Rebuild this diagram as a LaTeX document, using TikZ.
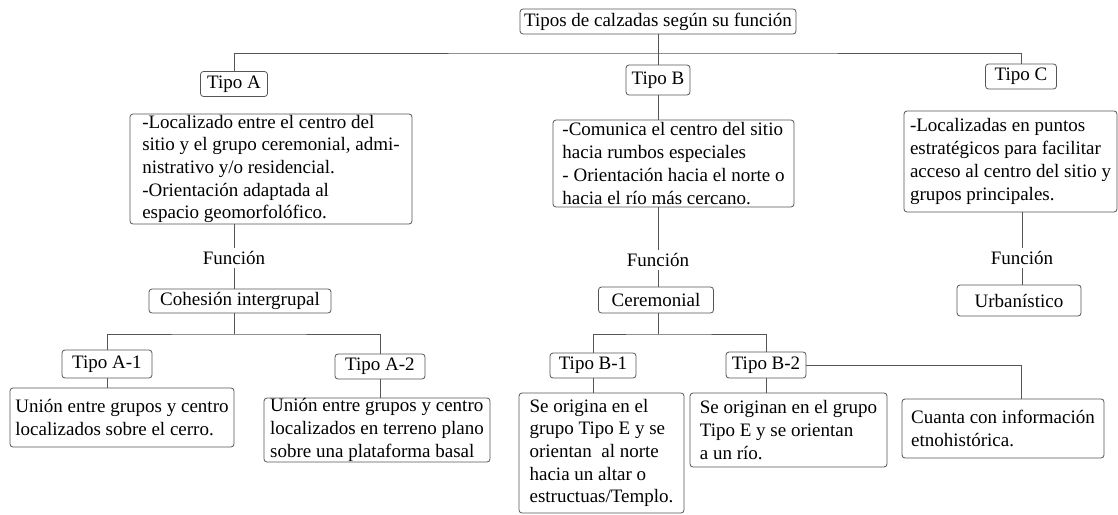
\documentclass[tikz,border=0pt]{standalone}
\usepackage{fontspec}
\setmainfont{Liberation Serif}
\usepackage{tikz}
\definecolor{linegray}{HTML}{555555}
\tikzstyle{every node}=[font=\fontsize{19}{22.7}\selectfont,text=black]
\tikzstyle{tag}=[draw=linegray,rounded corners=3pt,inner sep=0pt]
\tikzstyle{info}=[draw=linegray,rounded corners=3pt,inner xsep=2pt,inner ysep=0pt,align=left]
\tikzstyle{fn}=[inner sep=3pt]

\begin{document}
\begin{tikzpicture}[x=1pt,y=-1pt,line width=0.8pt,color=linegray]
\useasboundingbox (0,0) rectangle (1118,514);

% first level
\node[tag,minimum width=276pt,minimum height=25pt] (top) at (658,21.5) {Tipos de calzadas según su función};
\node[tag,minimum width=67pt,minimum height=25pt] (tipo_a) at (234,84) {Tipo A};
\node[tag,minimum width=64pt,minimum height=30pt] (tipo_b) at (658,80) {Tipo B};
\node[tag,minimum width=71pt,minimum height=25pt] (tipo_c) at (1021,76.5) {Tipo C};

\node[info,minimum width=282pt,minimum height=110pt] (desc_a) at (271,169)
  {-Localizado entre el centro del\\sitio y el grupo ceremonial, admi-\\nistrativo y/o residencial.\\-Orientación adaptada al\\espacio geomorfolófico.};
\node[info,minimum width=241pt,minimum height=87pt] (desc_b) at (673.5,163.5)
  {-Comunica el centro del sitio\\hacia rumbos especiales\\- Orientación hacia el norte o\\hacia el río más cercano.};
\node[info,minimum width=213pt,minimum height=101pt] (desc_c) at (1010.5,161.5)
  {-Localizadas en puntos\\estratégicos para facilitar\\acceso al centro del sitio y\\grupos principales.};

% function
\node[fn] (fun_a) at (234,258) {Función};
\node[fn] (fun_b) at (658,260) {Función};
\node[fn] (fun_c) at (1022,258) {Función};

\node[tag,minimum width=182pt,minimum height=24pt] (coh) at (240,301) {Cohesión intergrupal};
\node[tag,minimum width=115pt,minimum height=26pt] (cer) at (656,300) {Ceremonial};
\node[tag,minimum width=124pt,minimum height=31pt] (urb) at (1019,300.5) {Urbanístico};

% second level
\node[tag,minimum width=90pt,minimum height=28pt] (tipo_a1) at (107,364) {Tipo A-1};
\node[tag,minimum width=90pt,minimum height=25pt] (tipo_a2) at (380,366.5) {Tipo A-2};
\node[tag,minimum width=86pt,minimum height=25pt] (tipo_b1) at (593,365.5) {Tipo B-1};
\node[tag,minimum width=80pt,minimum height=26pt] (tipo_b2) at (766,365) {Tipo B-2};

\node[info,minimum width=224pt,minimum height=59pt] (desc_a1) at (122,417.5)
  {Unión entre grupos y centro\\localizados sobre el cerro.};
\node[info,minimum width=226pt,minimum height=64pt] (desc_a2) at (377,430)
  {Unión entre grupos y centro\\localizados en terreno plano\\sobre una plataforma basal};
\node[info,minimum width=165pt,minimum height=120pt] (desc_b1) at (601.5,453)
  {Se origina en el\\grupo Tipo E y se\\orientan\ \ al norte\\hacia un altar o\\estructuas/Templo.};
\node[info,minimum width=197pt,minimum height=74pt] (desc_b2) at (788.5,430)
  {Se originan en el grupo\\Tipo E y se orientan\\a un río.};
\node[info,minimum width=202pt,minimum height=59pt] (desc_b3) at (1003,428.5)
  {Cuanta con información\\etnohistórica.};

% connectors
\coordinate (bus) at (658,53);
\coordinate (bus_a) at (234,334);
\coordinate (bus_b) at (658,334);
\draw (top) -- (tipo_b);
\draw (tipo_a.north) |- (bus) -| (tipo_c.north);
\draw (tipo_b.south) -- (tipo_b.south |- desc_b.north);
\draw (fun_a) -- (fun_a |- desc_a.south);
\draw (fun_a) -- (fun_a |- coh.north);
\draw (fun_b) -- (fun_b |- desc_b.south);
\draw (fun_b) -- (fun_b |- cer.north);
\draw (fun_c) -- (fun_c |- desc_c.south);
\draw (fun_c) -- (fun_c |- urb.north);
\draw (bus_a |- coh.south) -- (bus_a);
\draw (tipo_a1.north) |- (bus_a) -| (tipo_a2.north);
\draw (tipo_a1.south) -- (tipo_a1.south |- desc_a1.north);
\draw (tipo_a2.south) -- (tipo_a2.south |- desc_a2.north);
\draw (bus_b |- cer.south) -- (bus_b);
\draw (tipo_b1.north) |- (bus_b) -| (tipo_b2.north);
\draw (tipo_b1.south) -- (tipo_b1.south |- desc_b1.north);
\draw (tipo_b2.south) -- (tipo_b2.south |- desc_b2.north);
\draw (tipo_b2.east) -| ([xshift=18pt]desc_b3.north);
\end{tikzpicture}
\end{document}
